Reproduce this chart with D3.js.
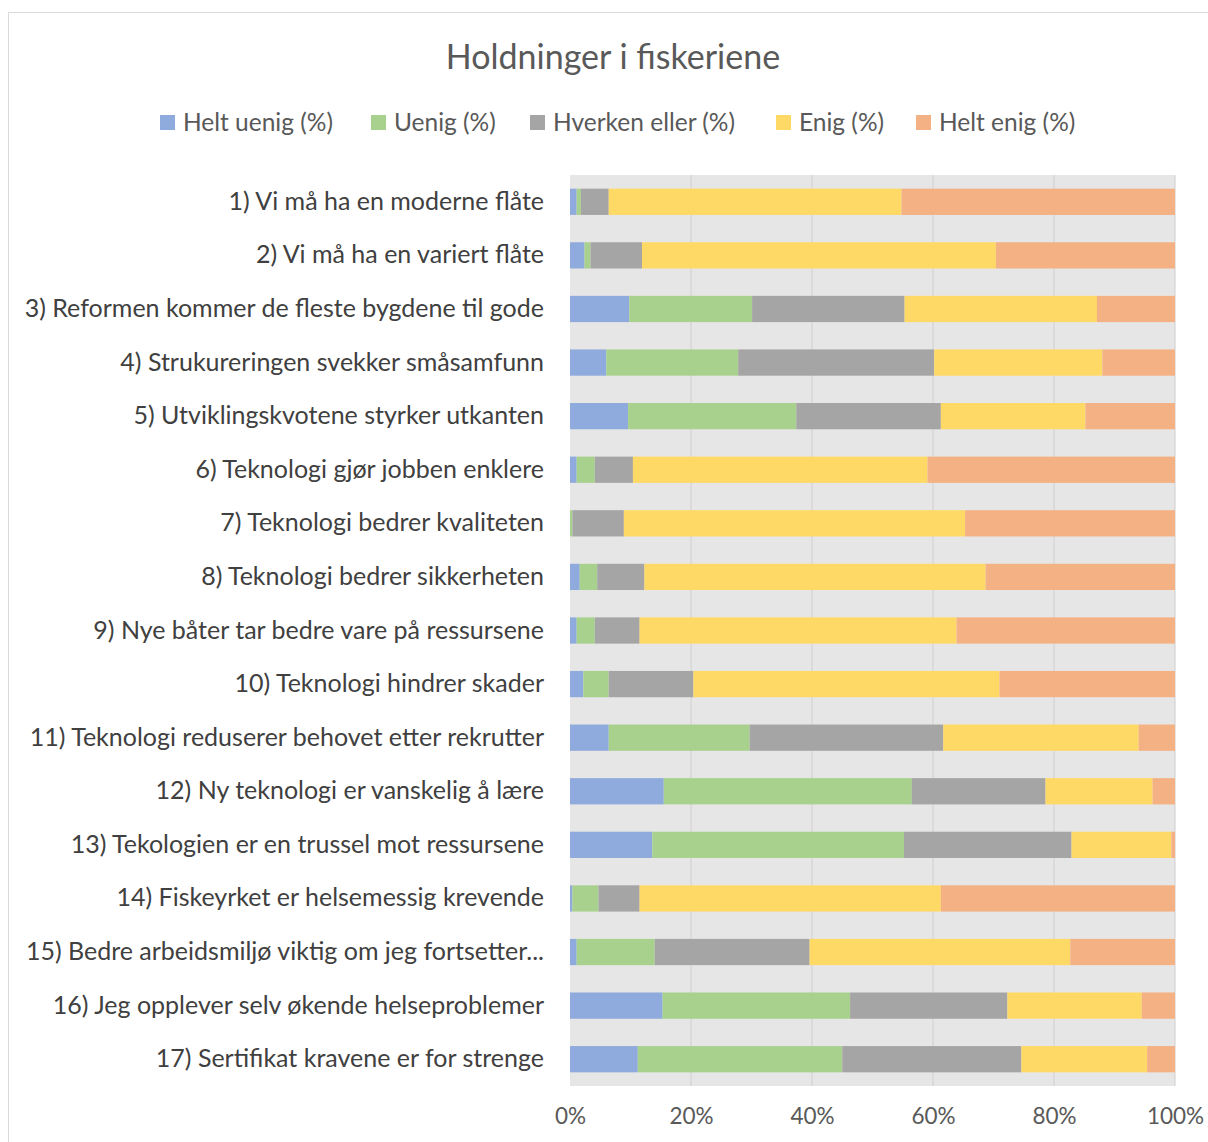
<!DOCTYPE html>
<html>
<head>
<meta charset="utf-8">
<script src="https://cdn.jsdelivr.net/npm/d3@7"></script>
<style>
  html, body { margin: 0; padding: 0; background: #fff; }
  svg { display: block; font-family: Lato, "Open Sans", sans-serif; }
</style>
</head>
<body>
<div id="chart"></div>
<script>
const categories = [
  '1) Vi må ha en moderne flåte',
  '2) Vi må ha en variert flåte',
  '3) Reformen kommer de fleste bygdene til gode',
  '4) Strukureringen svekker småsamfunn',
  '5) Utviklingskvotene styrker utkanten',
  '6) Teknologi gjør jobben enklere',
  '7) Teknologi bedrer kvaliteten',
  '8) Teknologi bedrer sikkerheten',
  '9) Nye båter tar bedre vare på ressursene',
  '10) Teknologi hindrer skader',
  '11) Teknologi reduserer behovet etter rekrutter',
  '12) Ny teknologi er vanskelig å lære',
  '13) Tekologien er en trussel mot ressursene',
  '14) Fiskeyrket er helsemessig krevende',
  '15) Bedre arbeidsmiljø viktig om jeg fortsetter...',
  '16) Jeg opplever selv økende helseproblemer',
  '17) Sertifikat kravene er for strenge'
];

const seriesNames = ['Helt uenig (%)', 'Uenig (%)', 'Hverken eller (%)', 'Enig (%)', 'Helt enig (%)'];

const heltUenig   = [1.1, 2.4, 9.8, 6.0, 9.6, 1.1, 0.0, 1.6, 1.1, 2.2, 6.4, 15.5, 13.6, 0.4, 1.1, 15.3, 11.2];
const uenig       = [0.7, 1.0, 20.3, 21.8, 27.8, 3.0, 0.4, 2.9, 3.0, 4.2, 23.3, 41.0, 41.6, 4.3, 12.9, 31.0, 33.8];
const hverken     = [4.6, 8.5, 25.2, 32.4, 23.9, 6.3, 8.5, 7.8, 7.4, 14.0, 32.0, 22.1, 27.7, 6.8, 25.6, 26.0, 29.6];
const enig        = [48.4, 58.5, 31.8, 27.8, 23.9, 48.7, 56.4, 56.4, 52.4, 50.6, 32.3, 17.7, 16.5, 49.8, 43.1, 22.2, 20.8];
const heltEnig    = [45.2, 29.6, 12.9, 12.0, 14.8, 40.9, 34.7, 31.3, 36.1, 29.0, 6.0, 3.7, 0.6, 38.7, 17.3, 5.5, 4.6];

const tickValues = [0, 0.2, 0.4, 0.6, 0.8, 1.0];

const colors = ['#8faadc', '#a9d18e', '#a5a5a5', '#ffd966', '#f4b183'];

const W = 1208, H = 1142;
const margin = { top: 175, right: 33, bottom: 56, left: 570 };

const svg = d3.select('#chart').append('svg')
  .attr('width', W)
  .attr('height', H);

// chart border
svg.append('rect')
  .attr('x', 8.5).attr('y', 12.5)
  .attr('width', W).attr('height', H)
  .attr('fill', '#fff')
  .attr('stroke', '#d9d9d9');

svg.append('text')
  .attr('x', 613).attr('y', 69)
  .attr('text-anchor', 'middle')
  .attr('font-size', 34)
  .attr('fill', '#595959')
  .text('Holdninger i fiskeriene');

// build rows for stacking
const rows = categories.map((c, i) => ({
  cat: c,
  [seriesNames[0]]: heltUenig[i],
  [seriesNames[1]]: uenig[i],
  [seriesNames[2]]: hverken[i],
  [seriesNames[3]]: enig[i],
  [seriesNames[4]]: heltEnig[i]
}));

const stack = d3.stack()
  .keys(seriesNames)
  .offset(d3.stackOffsetExpand);
const stacked = stack(rows);

const x = d3.scaleLinear().domain([0, 1]).range([margin.left, W - margin.right]);
const y = d3.scaleBand().domain(categories)
  .range([margin.top, H - margin.bottom])
  .paddingInner(0.51).paddingOuter(0.255);

// plot background
svg.append('rect')
  .attr('x', x(0)).attr('y', margin.top)
  .attr('width', x(1) - x(0))
  .attr('height', H - margin.bottom - margin.top)
  .attr('fill', '#e7e6e6');

// vertical gridlines
svg.append('g')
  .selectAll('line')
  .data(tickValues.slice(1))
  .join('line')
  .attr('x1', d => x(d)).attr('x2', d => x(d))
  .attr('y1', margin.top).attr('y2', H - margin.bottom)
  .attr('stroke', '#d0cece')
  .attr('stroke-width', 1);

// bars
svg.append('g')
  .selectAll('g')
  .data(stacked)
  .join('g')
  .attr('fill', (d, i) => colors[i])
  .selectAll('rect')
  .data(d => d)
  .join('rect')
  .attr('x', d => x(d[0]))
  .attr('y', d => y(d.data.cat))
  .attr('width', d => Math.max(0, x(d[1]) - x(d[0])))
  .attr('height', y.bandwidth());

// category axis
const yAxis = svg.append('g')
  .attr('transform', `translate(${x(0) - 26},0)`)
  .call(d3.axisLeft(y).tickSize(0).tickPadding(0));
yAxis.select('.domain').remove();
yAxis.selectAll('text')
  .attr('font-size', 25)
  .attr('font-family', 'Lato, "Open Sans", sans-serif')
  .attr('fill', '#404040');

// percent axis
const xAxis = svg.append('g')
  .attr('transform', `translate(0,${H - margin.bottom})`)
  .call(d3.axisBottom(x).tickValues(tickValues).tickFormat(d3.format('.0%')).tickSize(0).tickPadding(22));
xAxis.select('.domain').remove();
xAxis.selectAll('text')
  .attr('font-size', 22.5)
  .attr('font-family', 'Lato, "Open Sans", sans-serif')
  .attr('fill', '#595959');

// legend
const legendX = [160, 371, 530, 776, 916];
const legend = svg.append('g');
const item = legend.selectAll('g')
  .data(seriesNames)
  .join('g')
  .attr('transform', (d, i) => `translate(${legendX[i]},115)`);
item.append('rect')
  .attr('width', 15).attr('height', 15)
  .attr('fill', (d, i) => colors[i]);
item.append('text')
  .attr('x', 23).attr('y', 7.5)
  .attr('dy', '0.35em')
  .attr('font-size', 24.5)
  .attr('fill', '#595959')
  .text(d => d);
</script>
</body>
</html>
